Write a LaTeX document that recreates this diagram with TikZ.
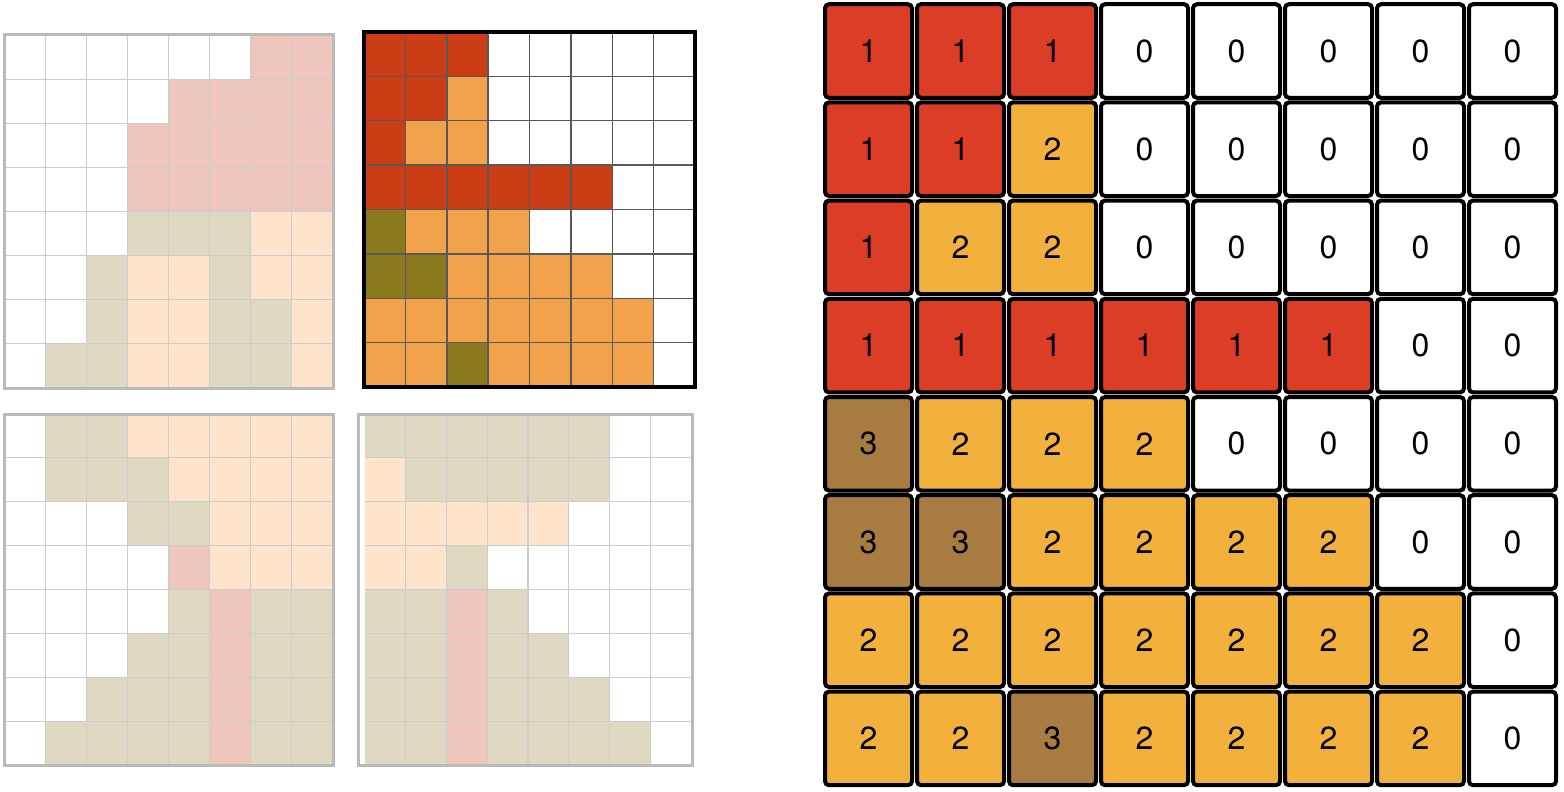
\documentclass[tikz,border=0pt]{standalone}
\usepackage{fontspec}
\setmainfont{TeX Gyre Heros}
\usetikzlibrary{positioning}

\definecolor{pale0}{HTML}{FFFFFF}
\definecolor{pale1}{HTML}{EFC6BD}
\definecolor{pale2}{HTML}{FDE4CB}
\definecolor{pale3}{HTML}{DFD9C1}
\definecolor{vivid0}{HTML}{FFFFFF}
\definecolor{vivid1}{HTML}{CB3D14}
\definecolor{vivid2}{HTML}{F2A24B}
\definecolor{vivid3}{HTML}{8B791E}
\definecolor{big0}{HTML}{FFFFFF}
\definecolor{big1}{HTML}{DC3D27}
\definecolor{big2}{HTML}{F2B13D}
\definecolor{big3}{HTML}{A87C40}

% fill an 8x8 panel: x0, y0, cell width, cell height, palette, rows
\newcommand{\tiles}[6]{%
  \foreach \cells [count=\r from 0] in {#6}
    \foreach \c [count=\k from 0] in \cells
      \fill[fill=#5\c] ({#1+#3*\k},{#2+#4*\r}) rectangle ++(#3,#4);}
% inner lines of a panel
\newcommand{\tilelines}[5]{%
  \foreach \k in {1,...,7}{
    \draw[#5] ({#1+#3*\k},#2) -- ++(0,{8*#4});
    \draw[#5] (#1,{#2+#4*\k}) -- ++({8*#3},0);}}

\begin{document}
\begin{tikzpicture}
[x=0.5pt,y=-0.5pt,
 paleline/.style={draw=black!20, line width=0.6pt},
 paleframe/.style={draw=black!27, line width=1.5pt},
 darkline/.style={draw=black!65, line width=0.75pt},
 darkframe/.style={draw=black, line width=2pt},
 cell/.style={draw=black, line width=2pt, rounded corners=2pt,
   minimum width=43.5pt, minimum height=46.8pt, inner sep=0pt,
   font=\fontsize{16}{18}\selectfont}]
\useasboundingbox (0,0) rectangle (1564,792);

% top left
\tiles{4}{35}{41.125}{44.125}{pale}{{0,0,0,0,0,0,1,1},{0,0,0,0,1,1,1,1},
  {0,0,0,1,1,1,1,1},{0,0,0,1,1,1,1,1},{0,0,0,3,3,3,2,2},{0,0,3,2,2,3,2,2},
  {0,0,3,2,2,3,3,2},{0,3,3,2,2,3,3,2}}
\tilelines{4}{35}{41.125}{44.125}{paleline}
\draw[paleframe] (4,35) rectangle (333,388);

% top right
\tiles{364}{32}{41.375}{44.375}{vivid}{{1,1,1,0,0,0,0,0},{1,1,2,0,0,0,0,0},
  {1,2,2,0,0,0,0,0},{1,1,1,1,1,1,0,0},{3,2,2,2,0,0,0,0},{3,3,2,2,2,2,0,0},
  {2,2,2,2,2,2,2,0},{2,2,3,2,2,2,2,0}}
\tilelines{364}{32}{41.375}{44.375}{darkline}
\draw[darkframe] (364,32) rectangle (695,387);

% bottom left
\tiles{4}{414}{41.125}{43.875}{pale}{{0,3,3,2,2,2,2,2},{0,3,3,3,2,2,2,2},
  {0,0,0,3,3,2,2,2},{0,0,0,0,1,2,2,2},{0,0,0,0,3,1,3,3},{0,0,0,3,3,1,3,3},
  {0,0,3,3,3,1,3,3},{0,3,3,3,3,1,3,3}}
\tilelines{4}{414}{41.125}{43.875}{paleline}
\draw[paleframe] (4,414) rectangle (333,765);

% bottom right
\tiles{365}{414}{40.75}{43.875}{pale}{{3,3,3,3,3,3,0,0},{2,3,3,3,3,3,0,0},
  {2,2,2,2,2,0,0,0},{2,2,3,0,0,0,0,0},{3,3,1,3,0,0,0,0},{3,3,1,3,3,0,0,0},
  {3,3,1,3,3,3,0,0},{3,3,1,3,3,3,3,0}}
\tilelines{365}{414}{40.75}{43.875}{paleline}
\draw[paleframe] (358,414) rectangle (692,765);

% labelled grid
\foreach \cells [count=\r from 0] in {{1,1,1,0,0,0,0,0},{1,1,2,0,0,0,0,0},
  {1,2,2,0,0,0,0,0},{1,1,1,1,1,1,0,0},{3,2,2,2,0,0,0,0},{3,3,2,2,2,2,0,0},
  {2,2,2,2,2,2,2,0},{2,2,3,2,2,2,2,0}}
  \foreach \v [count=\k from 0] in \cells
    \node[cell, fill=big\v] (n-\r-\k) at ({868.5+92*\k},{51+98.2*\r}) {\v};
\end{tikzpicture}
\end{document}
